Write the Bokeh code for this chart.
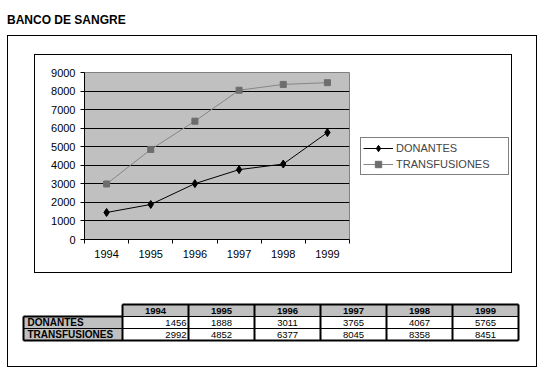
from bokeh.plotting import figure
from bokeh.models import (Range1d, FixedTicker, Legend, LegendItem, Div, Spacer,
                          ColumnDataSource)
from bokeh.layouts import column, row
from bokeh.embed import file_html
from bokeh.resources import INLINE
from bokeh.core.properties import value

# ---------------- data ----------------
title_text = "BANCO DE SANGRE"
years = ["1994", "1995", "1996", "1997", "1998", "1999"]
donantes = [1456, 1888, 3011, 3765, 4067, 5765]
transfusiones = [2992, 4852, 6377, 8045, 8358, 8451]
series_names = ["DONANTES", "TRANSFUSIONES"]
y_ticks = [0, 1000, 2000, 3000, 4000, 5000, 6000, 7000, 8000, 9000]

FONT = "Liberation Sans"
GRAY_BG = "#C0C0C0"
DON_STYLE = dict(line_color="black", marker="diamond", size=8,
                 fill_color="black", mline="black")
TRA_STYLE = dict(line_color="#858585", marker="square", size=6,
                 fill_color="#6d6d6d", mline="#6d6d6d")

# ---------------- chart (plot area) ----------------
idx = list(range(len(years)))
bounds = [i - 0.5 for i in range(len(years) + 1)]

chart = figure(width=316, height=217,
               x_range=Range1d(-0.5, len(years) - 0.5),
               y_range=Range1d(y_ticks[0], y_ticks[-1]),
               min_border_left=49, min_border_right=2,
               min_border_top=17, min_border_bottom=33,
               background_fill_color=GRAY_BG, border_fill_color="white",
               outline_line_color="#808080",
               output_backend="svg", toolbar_location=None)

chart.xgrid.visible = False
chart.ygrid.ticker = FixedTicker(ticks=y_ticks)
chart.ygrid.grid_line_color = "black"
chart.ygrid.grid_line_width = 1

ya = chart.yaxis[0]
ya.ticker = FixedTicker(ticks=y_ticks)
ya.axis_line_color = "black"
ya.major_tick_in = 0
ya.major_tick_out = 4
ya.major_tick_line_color = "black"
ya.major_label_standoff = 5
ya.major_label_text_font = FONT
ya.major_label_text_font_size = "11px"
ya.major_label_text_color = "black"

xa = chart.xaxis[0]
xa.ticker = FixedTicker(ticks=idx, minor_ticks=bounds)
xa.major_label_overrides = {i: y for i, y in zip(idx, years)}
xa.axis_line_color = "black"
xa.major_tick_in = 0
xa.major_tick_out = 0
xa.minor_tick_in = 0
xa.minor_tick_out = 4
xa.minor_tick_line_color = "black"
xa.major_label_standoff = 6
xa.major_label_text_font = FONT
xa.major_label_text_font_size = "11px"
xa.major_label_text_color = "black"

src = ColumnDataSource(dict(x=idx, don=donantes, tra=transfusiones))
for col, st in (("don", DON_STYLE), ("tra", TRA_STYLE)):
    chart.line("x", col, source=src, line_color=st["line_color"], line_width=1)
    chart.scatter("x", col, source=src, marker=st["marker"], size=st["size"],
                  fill_color=st["fill_color"], line_color=st["mline"])

# ---------------- legend (separate panel figure) ----------------
leg_fig = figure(width=160, height=217, min_border=0,
                 x_axis_location=None, y_axis_location=None,
                 x_range=Range1d(0, 1), y_range=Range1d(0, 1),
                 outline_line_color=None, background_fill_color="white",
                 border_fill_color="white",
                 output_backend="svg", toolbar_location=None)
leg_fig.grid.visible = False
items = []
for name, col, st in zip(series_names, ("don", "tra"), (DON_STYLE, TRA_STYLE)):
    lr = leg_fig.line("x", col, source=src, line_color=st["line_color"],
                      line_width=1, visible=False)
    sr = leg_fig.scatter("x", col, source=src, marker=st["marker"], size=st["size"],
                         fill_color=st["fill_color"], line_color=st["mline"],
                         visible=False)
    items.append(LegendItem(label=name, renderers=[lr, sr]))

legend = Legend(items=items, location="center_left",
                border_line_color="black", border_line_width=1,
                background_fill_color="white", background_fill_alpha=1,
                label_text_font=FONT, label_text_font_size="11px",
                glyph_width=30, glyph_height=16, label_height=16,
                label_width=110, label_standoff=3,
                spacing=0, padding=2, margin=9)
leg_fig.add_layout(legend)

# ---------------- table ----------------
n = len(years)
row_names = series_names
row_vals = [donantes, transfusiones]
nrows = len(row_names)          # data rows; header is row index nrows
pad_x = 2 / 66
pad_y = 2 / 12
label_w = 1.5

table = figure(width=528, height=93,
               x_range=Range1d(-label_w - pad_x, n + pad_x),
               y_range=Range1d(-pad_y, nrows + 1 + pad_y),
               min_border_left=13, min_border_right=16,
               min_border_top=29, min_border_bottom=24,
               x_axis_location=None, y_axis_location=None,
               outline_line_color=None, background_fill_color="white",
               border_fill_color="white",
               output_backend="svg", toolbar_location=None)
table.grid.visible = False

# header cells
table.quad(left=idx, right=[i + 1 for i in idx], bottom=[nrows] * n,
           top=[nrows + 1] * n, fill_color=GRAY_BG, line_color=None)
# row label cells
rb = [nrows - 1 - r for r in range(nrows)]
table.quad(left=[-label_w] * nrows, right=[0] * nrows, bottom=rb,
           top=[b + 1 for b in rb], fill_color=GRAY_BG, line_color=None)

# lines
seg = dict(x0=[], x1=[], y0=[], y1=[], w=[])
def add(x0, x1, y0, y1, w):
    seg["x0"].append(x0); seg["x1"].append(x1)
    seg["y0"].append(y0); seg["y1"].append(y1); seg["w"].append(w)
add(0, n, nrows + 1, nrows + 1, 2)
add(-label_w, 0, nrows, nrows, 2)
add(0, n, nrows, nrows, 1)
for r in range(1, nrows):
    add(-label_w, n, r, r, 1)
add(-label_w, n, 0, 0, 2)
add(-label_w, -label_w, 0, nrows, 2)
for c in range(n + 1):
    add(c, c, 0, nrows + 1, 2)
table.segment(x0="x0", x1="x1", y0="y0", y1="y1", line_width="w",
              line_color="black", source=ColumnDataSource(seg))

# header text
table.text(x=[i + 0.5 for i in idx], y=[nrows + 0.5] * n, text=years,
           text_font=value(FONT), text_font_size="9.5px", text_font_style="bold",
           text_align="center", text_baseline="middle", text_color="black")
# row labels
table.text(x=[-label_w] * nrows, y=[b + 0.5 for b in rb], text=row_names,
           x_offset=4, text_font=value(FONT), text_font_size="10px",
           text_font_style="bold", text_align="left", text_baseline="middle",
           text_color="black")
# values: first column right aligned, others centered
for r in range(nrows):
    vals = row_vals[r]
    table.text(x=[1], y=[rb[r] + 0.5], text=[str(vals[0])], x_offset=-2,
               text_font=value(FONT), text_font_size="9.5px",
               text_align="right", text_baseline="middle", text_color="black")
    table.text(x=[i + 0.5 for i in idx[1:]], y=[rb[r] + 0.5] * (n - 1),
               text=[str(v) for v in vals[1:]],
               text_font=value(FONT), text_font_size="9.5px",
               text_align="center", text_baseline="middle", text_color="black")

# ---------------- layout ----------------
title_div = Div(text=title_text, width=500, height=12, margin=(14, 0, 9, 7),
                styles={"font-family": "Liberation Sans", "font-size": "12px",
                        "font-weight": "bold", "color": "black",
                        "line-height": "12px"})

chart_box = row(chart, leg_fig, styles={"border": "1px solid black"})
outer = column(Spacer(height=18), row(Spacer(width=26), chart_box), table,
               styles={"border": "1px solid black"})
root = column(title_div, row(Spacer(width=7), outer))

open("out.html", "w").write(file_html(root, INLINE))
